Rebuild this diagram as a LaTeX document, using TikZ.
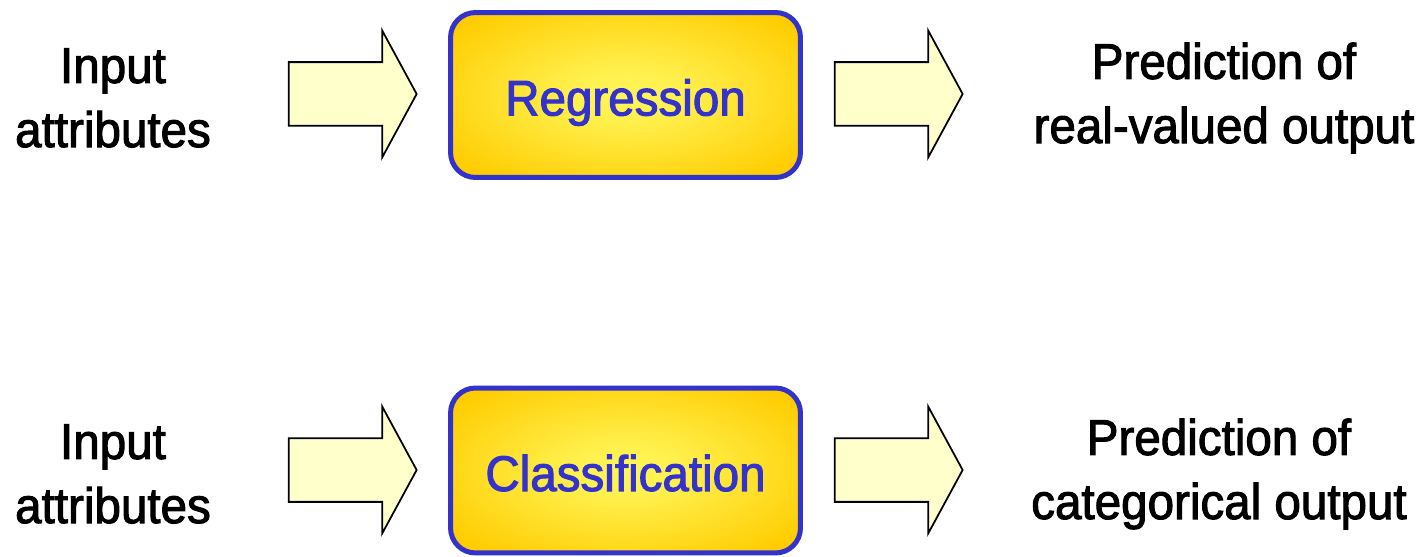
\documentclass[tikz,border=0pt]{standalone}
\usepackage{fontspec}
\setmainfont{Liberation Sans}[FakeStretch=0.95,FakeBold=2]
\usepackage{tikz}
\usetikzlibrary{shapes,shapes.arrows}
\definecolor{box_blue}{RGB}{51,51,204}
\definecolor{glow_in}{RGB}{255,246,90}
\definecolor{glow_out}{RGB}{255,204,0}
\definecolor{arrow_fill}{RGB}{255,255,204}
\pgfdeclareradialshading{boxglow}{\pgfpoint{0bp}{0bp}}{color(0bp)=(glow_in); color(8bp)=(glow_in!85!glow_out); color(32bp)=(glow_out); color(50bp)=(glow_out)}

\begin{document}
\begin{tikzpicture}[x=0.02cm,y=-0.02cm,font=\fontsize{28.5pt}{36.5pt}\selectfont]
    \tikzstyle{plaintext}=[text=black, align=center, inner sep=0pt]
    \tikzstyle{method}=[rectangle, rounded corners=0.5cm, draw=box_blue, line width=0.1cm,
                        shading=boxglow, minimum width=7cm, minimum height=3.3cm, text=box_blue,
                        text height=0.85cm, text depth=0.03cm]
    \tikzstyle{fatarrow}=[single arrow, draw=black, fill=arrow_fill, line width=1pt,
                          minimum height=2.56cm, minimum width=0pt, inner xsep=0pt, inner ysep=0.62cm,
                          single arrow head extend=0.63cm, single arrow tip angle=123]

    \useasboundingbox (0,0) rectangle (1423,557);

    % regression
    \node[plaintext] (IN1)  at (113,98)   {Input\\attributes};
    \node[fatarrow]  (AI1)  at (344,94)   {};
    \node[method]    (REG)  at (625.5,95) {Regression};
    \node[fatarrow]  (AO1)  at (890,94)   {};
    \node[plaintext] (OUT1) at (1224,98)  {Prediction of\\real-valued output};

    % classification
    \node[plaintext] (IN2)  at (113,474)    {Input\\attributes};
    \node[fatarrow]  (AI2)  at (344,470)    {};
    \node[method]    (CLS)  at (625.5,470.5) {Classification};
    \node[fatarrow]  (AO2)  at (890,470)    {};
    \node[plaintext] (OUT2) at (1219,474)   {Prediction of\\categorical output};
\end{tikzpicture}
\end{document}
